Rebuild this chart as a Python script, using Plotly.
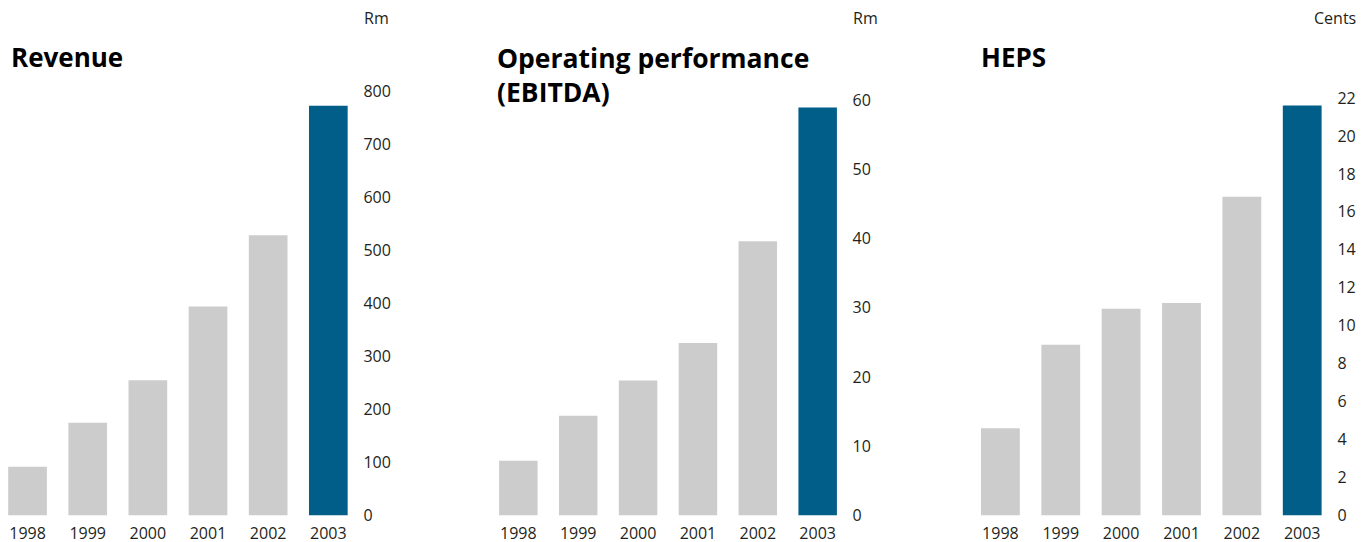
import plotly.graph_objects as go

W, H = 1372, 542
OFF = 8  # default page body margin of the html page

years = ["1998", "1999", "2000", "2001", "2002", "2003"]
revenue = [92, 175, 255, 394, 528, 772]
ebitda = [7.9, 14.4, 19.5, 24.9, 39.6, 58.9]
heps = [4.6, 9.0, 10.9, 11.2, 16.8, 21.6]

titles = ["Revenue", "Operating performance<br>(EBITDA)", "HEPS"]
units = ["Rm", "Rm", "Cents"]
y_max = [800, 60, 22]
y_dtick = [100, 10, 2]

GRAY = "#CCCCCC"
BLUE = "#015E89"
TXT = "#231F20"
TICKFONT = dict(family="Open Sans", size=16, color=TXT)
TITLEFONT = dict(family="Open Sans", size=26, color="#000000")


def fx(p):
    return (p - OFF) / W


def fy(p):
    return 1 - (p - OFF) / H


# panel geometry (pixels, in screen coordinates)
x_dom = [(8, 358.4), (488.4, 847.6), (970.2, 1332.4)]
x_rng = [(-0.325, 5.5), (-0.5, 5.5), (-0.5, 5.5)]
y_top = [91, 100, 98]
y_bottom = 515.5

series = [revenue, ebitda, heps]
bar_colors = [GRAY] * (len(years) - 1) + [BLUE]

fig = go.Figure()
layout = dict(
    width=W, height=H,
    margin=dict(l=0, r=0, t=0, b=0),
    paper_bgcolor="white", plot_bgcolor="white",
    showlegend=False, bargap=0.357,
)

for i, vals in enumerate(series):
    sx = "" if i == 0 else str(i + 1)
    fig.add_trace(go.Bar(x=years, y=vals, marker=dict(color=bar_colors, line=dict(width=0)),
                         xaxis="x" + sx, yaxis="y" + sx, hoverinfo="x+y"))
    layout["xaxis" + sx] = dict(
        domain=[fx(x_dom[i][0]), fx(x_dom[i][1])], range=list(x_rng[i]),
        anchor="y" + sx, type="category", showgrid=False, showline=False,
        zeroline=False, ticks="", tickfont=TICKFONT, ticklabelstandoff=6,
        automargin=False,
    )
    layout["yaxis" + sx] = dict(
        domain=[fy(y_bottom), fy(y_top[i])], range=[0, y_max[i]], dtick=y_dtick[i],
        anchor="x" + sx, side="right", showgrid=False, showline=False,
        zeroline=False, ticks="", tickfont=TICKFONT, ticklabelstandoff=4,
        automargin=False,
    )

fig.update_layout(**layout)

# titles
fig.add_annotation(text="<b>" + titles[0] + "</b>", x=fx(9), y=fy(57), xref="paper", yref="paper",
                   xanchor="left", yanchor="middle", showarrow=False, font=TITLEFONT)
fig.add_annotation(text="<b>" + titles[1] + "</b>", x=fx(495), y=fy(74.5),
                   xref="paper", yref="paper", xanchor="left", yanchor="middle",
                   align="left", showarrow=False, font=dict(TITLEFONT, size=26.5))
fig.add_annotation(text="<b>" + titles[2] + "</b>", x=fx(979), y=fy(57), xref="paper", yref="paper",
                   xanchor="left", yanchor="middle", showarrow=False, font=TITLEFONT)

# units
fig.add_annotation(text=units[0], x=fx(362), y=fy(18), xref="paper", yref="paper",
                   xanchor="left", yanchor="middle", showarrow=False, font=TICKFONT)
fig.add_annotation(text=units[1], x=fx(851), y=fy(18), xref="paper", yref="paper",
                   xanchor="left", yanchor="middle", showarrow=False, font=TICKFONT)
fig.add_annotation(text=units[2], x=fx(1358), y=fy(18), xref="paper", yref="paper",
                   xanchor="right", yanchor="middle", showarrow=False, font=TICKFONT)

fig.write_html("out.html")
